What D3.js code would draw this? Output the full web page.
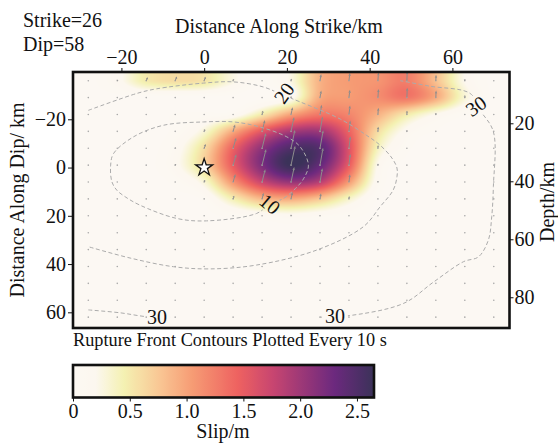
<!DOCTYPE html>
<html><head><meta charset="utf-8">
<script src="https://cdn.jsdelivr.net/npm/d3@7"></script>
<style>
body{margin:0;background:#fff}
svg{display:block}
text{font-family:"Liberation Serif","DejaVu Serif",serif;fill:#111}
</style>
</head><body>
<svg id="chart" width="558" height="446"></svg>
<script>
// ---------------- data ----------------
const strikeKm = [-28,-21,-14,-7,0,7,14,21,28,35,42,49,56,63,70];
const dipKm    = [-36,-29,-22,-15,-8,-1,6,13,20,27,34,41,48,55,62];
// slip (m), rows = dipKm, columns = strikeKm
const slip = [
 [0.00,0.15,0.50,0.60,0.55,0.25,0.05,0.25,0.90,1.05,1.10,1.25,0.80,0.20,0.00],
 [0.00,0.00,0.00,0.00,0.00,0.00,0.00,0.15,0.95,1.05,1.15,1.30,0.95,0.30,0.00],
 [0.00,0.00,0.00,0.03,0.05,0.10,0.50,1.00,1.30,1.20,0.90,0.50,0.20,0.03,0.00],
 [0.00,0.00,0.00,0.05,0.30,0.95,1.55,1.95,2.00,1.45,0.60,0.15,0.02,0.00,0.00],
 [0.00,0.00,0.00,0.12,0.60,1.45,2.10,2.50,2.45,1.60,0.40,0.05,0.00,0.00,0.00],
 [0.00,0.00,0.00,0.15,0.65,1.50,2.20,2.65,2.35,1.50,0.20,0.00,0.00,0.00,0.00],
 [0.00,0.00,0.00,0.05,0.30,1.10,1.75,2.05,1.85,1.05,0.12,0.00,0.00,0.00,0.00],
 [0.00,0.00,0.00,0.00,0.05,0.45,0.85,0.95,0.75,0.35,0.02,0.00,0.00,0.00,0.00],
 [0.00,0.00,0.00,0.00,0.00,0.05,0.10,0.15,0.10,0.05,0.00,0.00,0.00,0.00,0.00],
 [0,0,0,0,0,0,0,0,0,0,0,0,0,0,0],
 [0,0,0,0,0,0,0,0,0,0,0,0,0,0,0],
 [0,0,0,0,0,0,0,0,0,0,0,0,0,0,0],
 [0,0,0,0,0,0,0,0,0,0,0,0,0,0,0],
 [0,0,0,0,0,0,0,0,0,0,0,0,0,0,0],
 [0,0,0,0,0,0,0,0,0,0,0,0,0,0,0]
];
// rake (deg from along-strike axis) per column
const rakeByColumn = [66,66,67,68,70,74,76,78,80,83,86,88,88,88,88];

const strikeTicks = [-20,0,20,40,60];
const dipTicks    = [-20,0,20,40,60];
const depthTicks  = [20,40,60,80];
const slipTicks   = [0,0.5,1.0,1.5,2.0,2.5];

const slipColorStops = [0,0.20,0.45,0.75,1.05,1.45,1.75,2.05,2.30,2.65];
const slipColors = ["#fcf8f3","#fcf7ef","#f4f1b2","#f9c895","#f69c74","#ee6260","#c94670","#963678","#6c297e","#3b3259"];

// rupture front contours (km along strike, km along dip)
const contour10 = [[-22.6,-1.0],[-21.9,-5.8],[-17.1,-12.7],[-9.9,-17.5],[-0.2,-18.9],[7.1,-18.9],[13.5,-16.8],[20.0,-12.7],[23.2,-8.6],[25.2,-1.0],[24.0,4.7],[22.0,8.8],[19.1,12.9],[15.9,15.1],[12.7,19.0],[0.6,22.1],[-6.6,21.1],[-15.5,15.6],[-19.1,12.1],[-21.1,9.4],[-22.3,5.9]];
const contour20 = [[-28,-23.7],[-16.3,-30.7],[-11.6,-32.6],[-0.2,-35.0],[7.1,-35.5],[14.3,-33.4],[19.1,-30.0],[23.2,-27.2],[32.9,-20.1],[39.3,-13.3],[42.5,-9.3],[45.4,-3.9],[46.6,0.2],[46.6,3.8],[45.7,9.3],[42.5,16.3],[38.5,24.5],[27.2,34.2],[12.7,40.4],[1.4,42.0],[-7.4,41.1],[-17.9,37.5],[-28,32.8]];
const contour30a = [[-28,59.0],[-20.3,60.2],[-13.9,61.8],[-8.2,62]];
const contour30b = [[28.0,62],[34.5,61.5],[48.2,56.3],[55.4,47.5],[62.7,39.0],[66.3,37.0],[68.7,30.0],[69.5,20.4],[69.9,7.9],[69.9,-14.9],[66.7,-23.7],[64.3,-30.7],[54.6,-33.7],[47.4,-36]];
const contourLabels = [
  {text:"10", s:15.9, d:15.1, angle:40},
  {text:"20", s:19.3, d:-30.9, angle:-55},
  {text:"30", s:65.7, d:-25.5, angle:-35},
  {text:"30", s:-11.4, d:62.0, angle:0},
  {text:"30", s:31.6, d:61.6, angle:0}
];
const hypocenter = {s:0, d:0};

// ---------------- layout ----------------
const svg = d3.select("#chart");
const X0=73, X1=509.5, Y0=72, Y1=328;
const x = d3.scaleLinear().domain([-31.7,73.8]).range([X0,X1]);
const y = d3.scaleLinear().domain([-39.6,66.5]).range([Y0,Y1]);
const depth = d3.scaleLinear().domain([2.31,90.6]).range([Y0,Y1]);
const color = d3.scaleLinear().domain(slipColorStops).range(slipColors).clamp(true);

// ------------- slip field (bicubic interpolation of patch values) -------------
const gi = d3.scaleLinear().domain([strikeKm[0], strikeKm[strikeKm.length-1]]).range([0, strikeKm.length-1]).clamp(true);
const gj = d3.scaleLinear().domain([dipKm[0], dipKm[dipKm.length-1]]).range([0, dipKm.length-1]).clamp(true);
const nI = strikeKm.length, nJ = dipKm.length;
function val(i,j){ i=Math.max(0,Math.min(nI-1,i)); j=Math.max(0,Math.min(nJ-1,j)); return slip[j][i]; }
function cr(p0,p1,p2,p3,t){ return p1 + 0.5*t*(p2-p0 + t*(2*p0-5*p1+4*p2-p3 + t*(3*(p1-p2)+p3-p0))); }
function sample(fi,fj){
  const i=Math.floor(fi), j=Math.floor(fj), t=fi-i, u=fj-j;
  const r=[];
  for(let k=-1;k<=2;k++) r.push(cr(val(i-1,j+k),val(i,j+k),val(i+1,j+k),val(i+2,j+k),t));
  return Math.max(0, cr(r[0],r[1],r[2],r[3],u));
}
const cw = Math.round(X1-X0), chh = Math.round(Y1-Y0);
const canvas = document.createElement("canvas");
canvas.width=cw; canvas.height=chh;
const ctx = canvas.getContext("2d");
const img = ctx.createImageData(cw,chh);
for(let py=0;py<chh;py++){
  const fj = gj(y.invert(Y0+py+0.5));
  for(let px=0;px<cw;px++){
    const fi = gi(x.invert(X0+px+0.5));
    const c = d3.rgb(color(sample(fi,fj)));
    const o=(py*cw+px)*4;
    img.data[o]=c.r; img.data[o+1]=c.g; img.data[o+2]=c.b; img.data[o+3]=255;
  }
}
ctx.putImageData(img,0,0);
svg.append("image").attr("x",X0).attr("y",Y0).attr("width",cw).attr("height",chh)
  .attr("preserveAspectRatio","none").attr("href",canvas.toDataURL());

// ------------- patch dots and slip vectors -------------
const patches=[];
dipKm.forEach((d,j)=>strikeKm.forEach((s,i)=>patches.push({s,d,v:slip[j][i],rake:rakeByColumn[i]})));
svg.append("g").selectAll("circle").data(patches).join("circle")
  .attr("cx",p=>x(p.s)).attr("cy",p=>y(p.d)).attr("r",0.8).attr("fill","#a8a8a8");
const arrowScale = 7.5; // px per metre
const ag = svg.append("g").attr("stroke","#8c8c8c").attr("fill","#8c8c8c");
patches.filter(p=>p.v>0.1).forEach(p=>{
  const a = p.rake*Math.PI/180, L=p.v*arrowScale;
  const x0=x(p.s), y0=y(p.d), x1=x0+L*Math.cos(a), y1=y0-L*Math.sin(a);
  const ux=Math.cos(a), uy=-Math.sin(a), hl=Math.min(3,L*0.5), hw=1.2;
  const bx=x1-ux*hl, by=y1-uy*hl;
  ag.append("line").attr("x1",x0).attr("y1",y0).attr("x2",bx).attr("y2",by).attr("stroke-width",1);
  ag.append("path").attr("stroke","none")
    .attr("d",`M${x1},${y1}L${bx-uy*hw},${by+ux*hw}L${bx+uy*hw},${by-ux*hw}Z`);
});

// ------------- rupture contours -------------
const defs = svg.append("defs");
const mask = defs.append("mask").attr("id","lblmask").attr("maskUnits","userSpaceOnUse")
  .attr("x",0).attr("y",0).attr("width",558).attr("height",446);
mask.append("rect").attr("width",558).attr("height",446).attr("fill","white");
contourLabels.forEach(l=>{
  mask.append("rect").attr("x",-13).attr("y",-9).attr("width",26).attr("height",18).attr("fill","black")
    .attr("transform",`translate(${x(l.s)},${y(l.d)}) rotate(${l.angle})`);
});
const line = d3.line().x(p=>x(p[0])).y(p=>y(p[1])).curve(d3.curveCatmullRom);
const lineClosed = d3.line().x(p=>x(p[0])).y(p=>y(p[1])).curve(d3.curveCatmullRomClosed);
const cg = svg.append("g").attr("mask","url(#lblmask)").attr("fill","none")
  .attr("stroke","#ababab").attr("stroke-width",1).attr("stroke-dasharray","4,2.5");
cg.append("path").attr("d",lineClosed(contour10));
[contour20,contour30a,contour30b].forEach(c=>cg.append("path").attr("d",line(c)));
svg.append("g").selectAll("text").data(contourLabels).join("text")
  .attr("transform",l=>`translate(${x(l.s)},${y(l.d)}) rotate(${l.angle})`)
  .attr("text-anchor","middle").attr("dominant-baseline","central")
  .attr("font-size",20).text(l=>l.text);

// hypocenter star
svg.append("path").attr("d",d3.symbol(d3.symbolStar,90)())
  .attr("transform",`translate(${x(hypocenter.s)},${y(hypocenter.d)})`)
  .attr("fill","white").attr("stroke","#111").attr("stroke-width",1.3);

// ------------- frame and axes -------------
svg.append("rect").attr("x",X0).attr("y",Y0).attr("width",X1-X0).attr("height",Y1-Y0)
  .attr("fill","none").attr("stroke","#111").attr("stroke-width",2.6);

function styleAxis(g){
  g.attr("font-family",null).attr("font-size",null);
  g.select(".domain").remove();
  g.selectAll(".tick line").attr("stroke","#111").attr("stroke-width",1);
  g.selectAll(".tick text").attr("font-size",20).attr("fill","#111");
}
svg.append("g").attr("transform",`translate(0,${Y0})`)
  .call(d3.axisTop(x).tickValues(strikeTicks).tickSize(4).tickPadding(4)).call(styleAxis);
svg.append("g").attr("transform",`translate(${X0},0)`)
  .call(d3.axisLeft(y).tickValues(dipTicks).tickSize(5).tickPadding(2)).call(styleAxis);
svg.append("g").attr("transform",`translate(${X1},0)`)
  .call(d3.axisRight(depth).tickValues(depthTicks).tickSize(4).tickPadding(1)).call(styleAxis);

// titles
svg.append("text").attr("x",23).attr("y",27).attr("font-size",20).text("Strike=26");
svg.append("text").attr("x",23).attr("y",51).attr("font-size",20).text("Dip=58");
svg.append("text").attr("x",279).attr("y",33).attr("text-anchor","middle").attr("font-size",20).text("Distance Along Strike/km");
svg.append("text").attr("transform","translate(24,200) rotate(-90)").attr("text-anchor","middle").attr("font-size",20).text("Distance Along Dip/ km");
svg.append("text").attr("transform","translate(554,202) rotate(-90)").attr("text-anchor","middle").attr("font-size",20).text("Depth/km");
svg.append("text").attr("x",73).attr("y",346).attr("font-size",18.3).text("Rupture Front Contours Plotted Every 10 s");

// ------------- colour bar -------------
const CB0=73, CB1=374, CBY0=365, CBY1=397.5;
const cbx = d3.scaleLinear().domain([0,2.65]).range([CB0,CB1]);
const grad = defs.append("linearGradient").attr("id","cbgrad");
d3.range(0,2.651,0.05).forEach(v=>grad.append("stop").attr("offset",v/2.65).attr("stop-color",color(v)));
svg.append("rect").attr("x",CB0).attr("y",CBY0).attr("width",CB1-CB0).attr("height",CBY1-CBY0)
  .attr("fill","url(#cbgrad)").attr("stroke","#111").attr("stroke-width",2.6);
svg.append("g").attr("transform",`translate(0,${CBY1})`)
  .call(d3.axisBottom(cbx).tickValues(slipTicks).tickSize(4).tickPadding(2)
    .tickFormat(d=>d===0?"0":d3.format(".1f")(d))).call(styleAxis);
svg.append("text").attr("x",223).attr("y",438).attr("text-anchor","middle").attr("font-size",20).text("Slip/m");
</script>
</body></html>
